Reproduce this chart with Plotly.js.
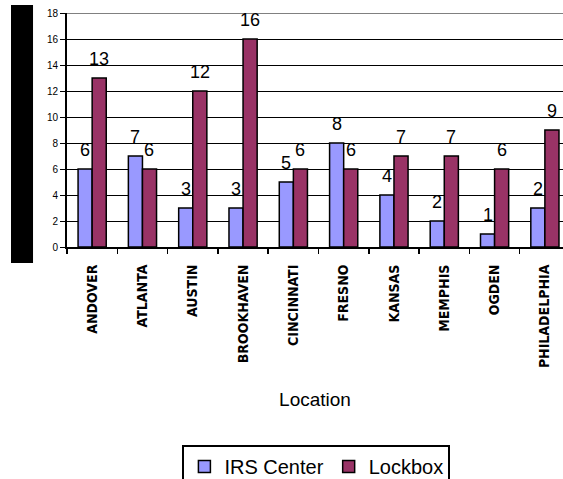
<!DOCTYPE html>
<html>
<head>
<meta charset="utf-8">
<script src="https://cdn.plot.ly/plotly-3.0.1.min.js"></script>
<style>html,body{margin:0;padding:0;background:#fff;}#chart{width:563px;height:479px;}</style>
</head>
<body>
<div id="chart"></div>
<script>
const locations = ["ANDOVER","ATLANTA","AUSTIN","BROOKHAVEN","CINCINNATI","FRESNO","KANSAS","MEMPHIS","OGDEN","PHILADELPHIA"];
const irsCenter = [6, 7, 3, 3, 5, 8, 4, 2, 1, 3];
const lockbox = [13, 6, 12, 16, 6, 6, 7, 7, 6, 9];
const irsLabels = ["6","7","3","3","5","8","4","2","1","2"];
const lockboxLabels = ["13","6","12","16","6","6","7","7","6","9"];
const yTicks = [0,2,4,6,8,10,12,14,16,18];

const FONT = "Arial, 'Liberation Sans', sans-serif";

const traces = [
  {type:"bar", name:"IRS Center", x:locations, y:irsCenter,
   marker:{color:"#9999FF", line:{color:"#000000", width:1.5}}},
  {type:"bar", name:"Lockbox", x:locations, y:lockbox,
   marker:{color:"#993366", line:{color:"#000000", width:1.5}}}
];

const annotations = [];
locations.forEach((loc,i)=>{
  annotations.push({x:loc, y:irsCenter[i], text:irsLabels[i], showarrow:false, xanchor:"center", yanchor:"bottom", xshift:-7, yshift:7, font:{family:FONT, size:18, color:"#000"}});
  annotations.push({x:loc, y:lockbox[i], text:lockboxLabels[i], showarrow:false, xanchor:"center", yanchor:"bottom", xshift:7, yshift:7, font:{family:FONT, size:18, color:"#000"}});
});

const layout = {
  width:563, height:479,
  margin:{l:67, r:0, t:13, b:232},
  paper_bgcolor:"#ffffff", plot_bgcolor:"#ffffff",
  font:{family:FONT, color:"#000"},
  barmode:"group", bargap:0.44, bargroupgap:0,
  showlegend:true,
  legend:{orientation:"h", xref:"container", yref:"container", x:0.562, xanchor:"center", y:0.071, yanchor:"top",
          font:{family:FONT, size:20, color:"#000"}, bordercolor:"#000", borderwidth:2,
          bgcolor:"#fff", itemwidth:30},
  xaxis:{type:"category", range:[-0.5, 9.36], showgrid:false, showline:true, linecolor:"#000", linewidth:2,
         ticks:"outside", tickson:"boundaries", ticklen:5, tickcolor:"#000", tickwidth:1.5,
         tickangle:-90, ticklabelstandoff:10,
         tickfont:{family:"'DejaVu Sans Condensed', sans-serif", size:14, weight:"bold", color:"#000"},
         title:{text:"Location", font:{family:FONT, size:19, color:"#000"}, standoff:26},
         fixedrange:true, automargin:false},
  yaxis:{range:[0,18], tickvals:yTicks, ticktext:yTicks.map(String), showgrid:true, gridcolor:"#000", gridwidth:1,
         showline:true, linecolor:"#000", linewidth:2, ticks:"outside", ticklen:5, tickcolor:"#000",
         tickfont:{family:FONT, size:10, color:"#000"}, zeroline:false, automargin:false},
  shapes:[
    {type:"line", xref:"paper", yref:"y", x0:0, x1:1, y0:18, y1:18, line:{color:"#808080", width:2}},
    {type:"rect", xref:"paper", yref:"paper", x0:-0.1129, x1:-0.0685, y0:-0.0684, y1:1.034, fillcolor:"#000", line:{width:0}}
  ],
  annotations:annotations
};

Plotly.newPlot("chart", traces, layout, {displayModeBar:false, staticPlot:true});
</script>
</body>
</html>
